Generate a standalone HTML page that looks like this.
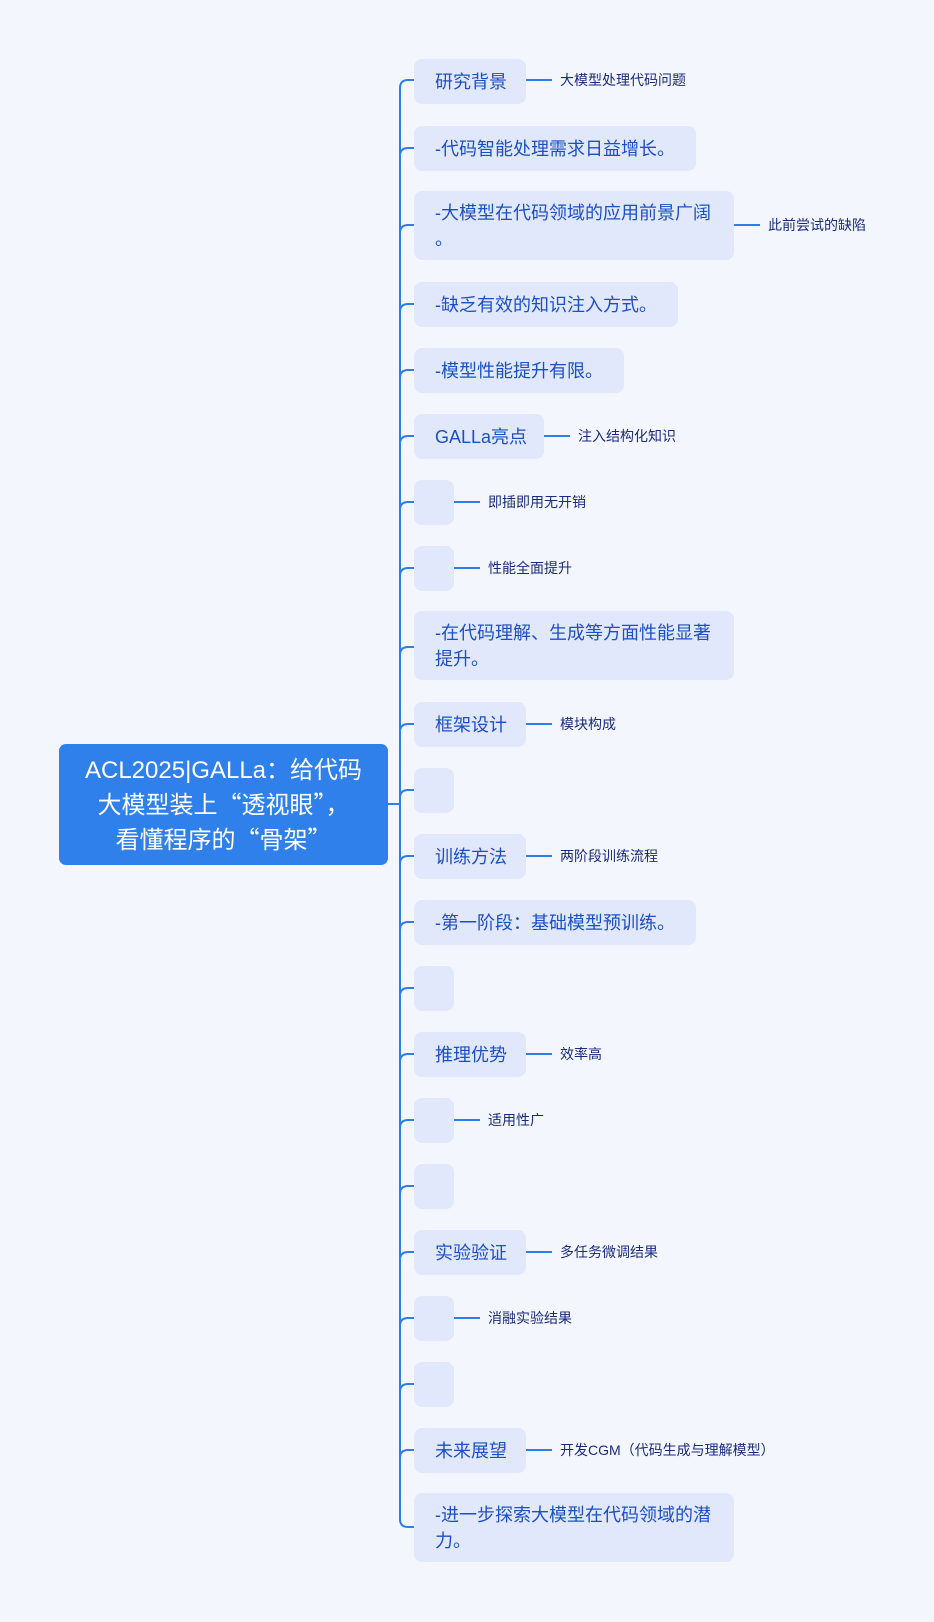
<!DOCTYPE html>
<html><head><meta charset="utf-8"><style>
body{margin:0;width:934px;height:1622px;background:#f4f6fd;position:relative;overflow:hidden;font-family:"Liberation Sans","Noto Sans CJK SC",sans-serif}
.b{position:absolute;left:414px;background:#e1e8fc;border-radius:8px;color:#1c4fc4;font-size:18px;line-height:26px;box-sizing:border-box;padding:0 8px 0 21px;display:flex;align-items:center}
.n{white-space:nowrap}
.c{position:absolute;font-size:14px;color:#1a2b7a;line-height:18px;white-space:nowrap}
.root{position:absolute;left:59px;top:744px;width:329px;height:121px;background:#2f80ea;border-radius:7px;color:#fff;font-size:24px;line-height:32px;text-align:center;display:flex;align-items:center;justify-content:center}
.q{font-family:"Noto Sans CJK SC",sans-serif}
svg{position:absolute;left:0;top:0}
</style></head><body>
<svg width="934" height="1622"><g fill="none" stroke="#2f7ee8" stroke-width="2">
<path d="M388 804H400"/>
<path d="M414 80H408Q400 80 400 88V1519Q400 1527 408 1527H414"/>
<path d="M400 156Q400 148 408 148H414M400 233Q400 225 408 225H414M400 312Q400 304 408 304H414M400 378Q400 370 408 370H414M400 444Q400 436 408 436H414M400 510Q400 502 408 502H414M400 576Q400 568 408 568H414M400 655Q400 647 408 647H414M400 732Q400 724 408 724H414M400 798Q400 790 408 790H414M400 864Q400 856 408 856H414M400 930Q400 922 408 922H414M400 996Q400 988 408 988H414M400 1062Q400 1054 408 1054H414M400 1128Q400 1120 408 1120H414M400 1194Q400 1186 408 1186H414M400 1260Q400 1252 408 1252H414M400 1326Q400 1318 408 1318H414M400 1392Q400 1384 408 1384H414M400 1458Q400 1450 408 1450H414"/>
<path d="M526 80H552M734 225H760M544 436H570M454 502H480M454 568H480M526 724H552M526 856H552M526 1054H552M454 1120H480M526 1252H552M454 1318H480M526 1450H552"/>
</g></svg>
<div class="root"><div>ACL2025|GALLa<span class="q">：</span>给代码<br>大模型装上<span class="q">“</span>透视眼<span class="q">”，</span><br>看懂程序的<span class="q">“</span>骨架<span class="q">”</span></div></div>

<div class="b n" style="top:59px;width:112px;height:45px">研究背景</div>
<div class="c" style="left:560px;top:71px">大模型处理代码问题</div>
<div class="b n" style="top:126px;width:282px;height:45px">-代码智能处理需求日益增长。</div>
<div class="b" style="top:191px;width:320px;height:69px;padding-right:4px"><div><span class="n">-大模型在代码领域的应用前景广阔</span><br>。</div></div>
<div class="c" style="left:768px;top:216px">此前尝试的缺陷</div>
<div class="b n" style="top:282px;width:264px;height:45px">-缺乏有效的知识注入方式。</div>
<div class="b n" style="top:348px;width:210px;height:45px">-模型性能提升有限。</div>
<div class="b n" style="top:414px;width:130px;height:45px">GALLa亮点</div>
<div class="c" style="left:578px;top:427px">注入结构化知识</div>
<div class="b" style="top:480px;width:40px;height:45px"></div>
<div class="c" style="left:488px;top:493px">即插即用无开销</div>
<div class="b" style="top:546px;width:40px;height:45px"></div>
<div class="c" style="left:488px;top:559px">性能全面提升</div>
<div class="b" style="top:611px;width:320px;height:69px;padding-right:4px"><div><span class="n">-在代码理解、生成等方面性能显著</span><br>提升。</div></div>
<div class="b n" style="top:702px;width:112px;height:45px">框架设计</div>
<div class="c" style="left:560px;top:715px">模块构成</div>
<div class="b" style="top:768px;width:40px;height:45px"></div>
<div class="b n" style="top:834px;width:112px;height:45px">训练方法</div>
<div class="c" style="left:560px;top:847px">两阶段训练流程</div>
<div class="b n" style="top:900px;width:282px;height:45px">-第一阶段：基础模型预训练。</div>
<div class="b" style="top:966px;width:40px;height:45px"></div>
<div class="b n" style="top:1032px;width:112px;height:45px">推理优势</div>
<div class="c" style="left:560px;top:1045px">效率高</div>
<div class="b" style="top:1098px;width:40px;height:45px"></div>
<div class="c" style="left:488px;top:1111px">适用性广</div>
<div class="b" style="top:1164px;width:40px;height:45px"></div>
<div class="b n" style="top:1230px;width:112px;height:45px">实验验证</div>
<div class="c" style="left:560px;top:1243px">多任务微调结果</div>
<div class="b" style="top:1296px;width:40px;height:45px"></div>
<div class="c" style="left:488px;top:1309px">消融实验结果</div>
<div class="b" style="top:1362px;width:40px;height:45px"></div>
<div class="b n" style="top:1428px;width:112px;height:45px">未来展望</div>
<div class="c" style="left:560px;top:1441px">开发CGM（代码生成与理解模型）</div>
<div class="b" style="top:1493px;width:320px;height:69px;padding-right:4px"><div><span class="n">-进一步探索大模型在代码领域的潜</span><br>力。</div></div>
</body></html>
